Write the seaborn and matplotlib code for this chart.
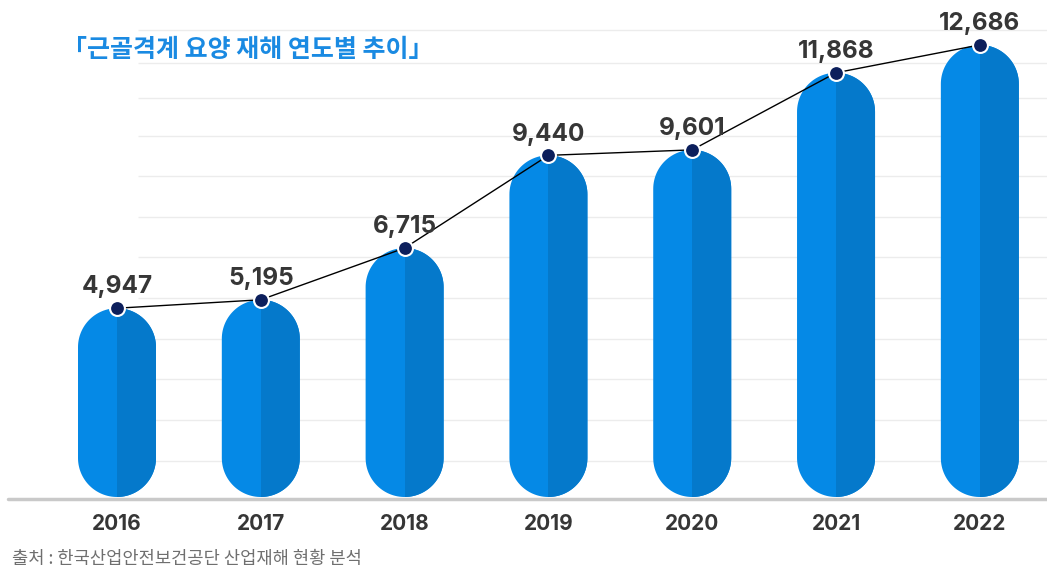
import numpy as np
import pandas as pd
import matplotlib
matplotlib.use("Agg")
import matplotlib.pyplot as plt
from matplotlib.patches import Polygon, Rectangle
import seaborn as sns

# ---- data ----
years = ["2016", "2017", "2018", "2019", "2020", "2021", "2022"]
cases = [4947, 5195, 6715, 9440, 9601, 11868, 12686]
title_text = "「근골격계 요양 재해 연도별 추이」"
source_text = "출처 : 한국산업안전보건공단 산업재해 현황 분석"

# ---- style ----
sns.set_theme(style="white")
plt.rcParams["font.family"] = ["Noto Sans CJK KR", "DejaVu Sans"]
NUM_FONT = ["Inter", "Noto Sans CJK KR", "DejaVu Sans"]

LIGHT = "#0589e6"
DARK = "#0579cb"
NAVY = "#0c1f5c"
TXT = "#363636"

W, H = 1047, 571
fig = plt.figure(figsize=(W / 100, H / 100), dpi=100)
base_px = 497
ax = fig.add_axes([0, (H - base_px) / H, 1, base_px / H])

df = pd.DataFrame({"year": years, "cases": cases})
sns.barplot(data=df, x="year", y="cases", ax=ax, color=LIGHT, width=0.5424,
            saturation=1)

ymin, ymax = -602, 14006
ax.set_xlim(-0.8136, 6.467)
ax.set_ylim(ymin, ymax)

# gridlines
grid_vals = [456, 1661, 2866, 4042, 5247, 6452, 7628, 8833, 10009, 11126, 12155, 13125]
ax.hlines(grid_vals, 0.146, 6.467, colors="#ececec", linewidth=1, zorder=0)

fig.canvas.draw()
p0 = ax.transData.transform((0, 0))
p1 = ax.transData.transform((1, 1))
px_per_x = p1[0] - p0[0]
px_per_y = p1[1] - p0[1]


def capsule(x0, w, bottom, top):
    r = w / 2
    ry = r * px_per_x / px_per_y
    xc = x0 + r
    t1 = np.linspace(0, np.pi, 60)
    t2 = np.linspace(np.pi, 2 * np.pi, 60)
    xs_ = np.concatenate([xc + r * np.cos(t1), xc + r * np.cos(t2)])
    ys_ = np.concatenate([(top - ry) + ry * np.sin(t1), (bottom + ry) + ry * np.sin(t2)])
    return np.column_stack([xs_, ys_])


patches = list(ax.patches)
for p in patches:
    x0 = p.get_x()
    w = p.get_width()
    top = p.get_height()
    p.remove()
    verts = capsule(x0, w, ymin, top)
    ax.add_patch(Polygon(verts, closed=True, facecolor=LIGHT, edgecolor="none", zorder=2))
    dark = Polygon(verts, closed=True, facecolor=DARK, edgecolor="none", zorder=2.1)
    ax.add_patch(dark)
    clip = Rectangle((x0 + w / 2, ymin), w, ymax - ymin, transform=ax.transData)
    dark.set_clip_path(clip)

xs = np.arange(len(years))
sns.lineplot(x=xs, y=cases, ax=ax, color="black", linewidth=1, zorder=3)
ax.scatter(xs, cases, s=115, color=NAVY, edgecolor="white", linewidth=1.5, zorder=4)

for x, v in zip(xs, cases):
    ax.annotate(f"{v:,}", (x, v), xytext=(0, 7), textcoords="offset points",
                ha="center", va="bottom", fontsize=17.5, fontweight="bold",
                color=TXT, family=NUM_FONT, zorder=5)

ax.set_xlabel("")
ax.set_ylabel("")
ax.set_yticks([])
ax.set_xticks(xs)
ax.set_xticklabels(years, fontsize=15, fontweight="bold", color=TXT, family=NUM_FONT)
ax.tick_params(axis="x", length=0, pad=12)
for s in ax.spines.values():
    s.set_visible(False)

# baseline
fig.add_artist(plt.Line2D([8 / W, 1], [(H - 498.5) / H] * 2, color="#c9c9c9",
                          linewidth=2.5, transform=fig.transFigure, zorder=1))

fig.text(62 / W, 1 - 50 / H, title_text, fontsize=18, fontweight="bold",
         color="#1a8ae2", ha="left", va="center")
fig.text(12 / W, 1 - 559 / H, source_text, fontsize=12.7, color="#6f6f6f",
         ha="left", va="center")

fig.savefig("out.png", dpi=100)
